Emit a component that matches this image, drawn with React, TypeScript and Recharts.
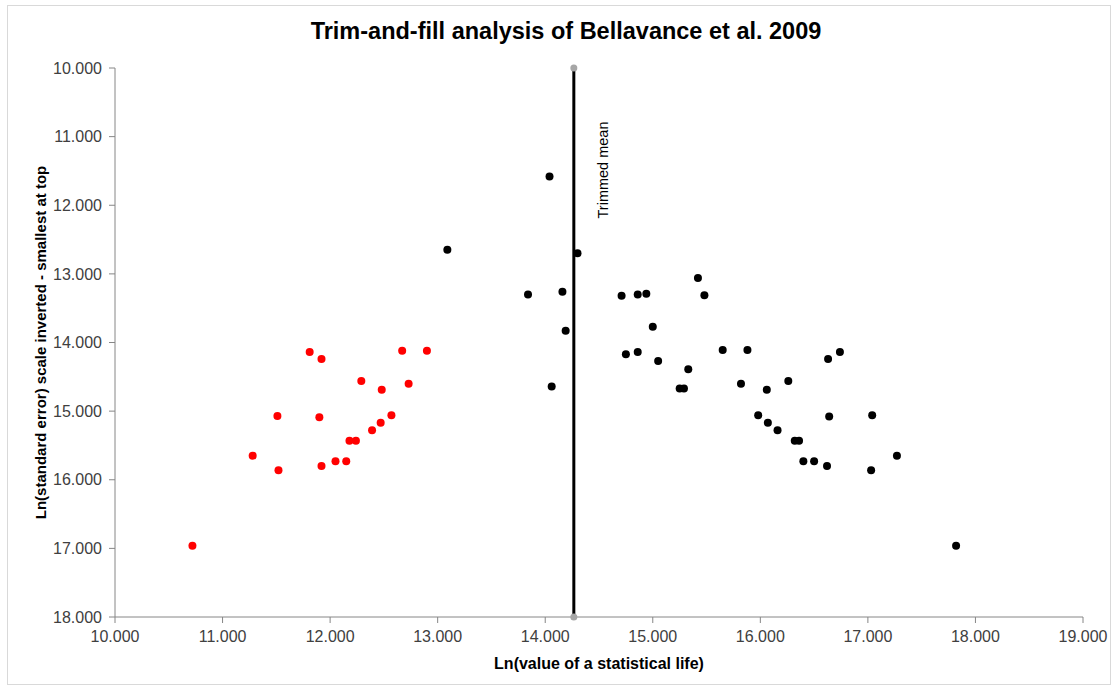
import { ScatterChart, Scatter, XAxis, YAxis, ReferenceLine } from 'recharts';

// observed studies (black) - ln(VSL) and ln(SE)
const observedLnVsl = [
  14.04, 13.09, 14.30, 13.84, 14.16, 14.19, 14.06,
  15.42, 14.71, 14.86, 14.94, 15.48, 15.00, 14.75, 14.86, 15.05, 15.33, 15.65, 15.88, 16.63, 16.74,
  15.25, 15.29, 15.82, 16.06, 16.26, 15.98, 16.07, 16.16, 16.64, 17.04, 16.32, 16.36,
  16.40, 16.50, 16.62, 17.27, 17.03, 17.82,
];
const observedLnSe = [
  11.58, 12.65, 12.70, 13.30, 13.26, 13.83, 14.64,
  13.06, 13.32, 13.30, 13.29, 13.31, 13.77, 14.17, 14.14, 14.27, 14.39, 14.11, 14.11, 14.24, 14.14,
  14.67, 14.67, 14.60, 14.69, 14.56, 15.06, 15.17, 15.28, 15.08, 15.06, 15.43, 15.43,
  15.73, 15.73, 15.80, 15.65, 15.86, 16.96,
];

// filled (imputed) studies (red)
const filledLnVsl = [
  11.81, 11.92, 12.67, 12.90, 12.29, 12.48, 12.73, 11.51, 11.90, 12.57,
  12.47, 12.39, 12.18, 12.24, 11.28, 11.52, 11.92, 12.05, 12.15, 10.72,
];
const filledLnSe = [
  14.14, 14.24, 14.12, 14.12, 14.56, 14.69, 14.60, 15.07, 15.09, 15.06,
  15.17, 15.28, 15.43, 15.43, 15.65, 15.86, 15.80, 15.73, 15.73, 16.96,
];

const trimmedMean = 14.266;
const meanSpan = [10, 18];

const xTicks = [10, 11, 12, 13, 14, 15, 16, 17, 18, 19];
const yTicks = [10, 11, 12, 13, 14, 15, 16, 17, 18];

const observed = observedLnVsl.map((x, i) => ({ x, y: observedLnSe[i] }));
const filled = filledLnVsl.map((x, i) => ({ x, y: filledLnSe[i] }));
const meanLine = meanSpan.map((y) => ({ x: trimmedMean, y }));

const FONT = '"Liberation Sans", Arial, sans-serif';

const dot = (color: string, r: number) => (props: any) =>
  <circle cx={props.cx} cy={props.cy} r={r} fill={color} />;

export default function App() {
  return (
    <div style={{ position: 'absolute', left: 0, top: 0, width: 1117, height: 688, background: '#fff', fontFamily: FONT }}>
      <div style={{ position: 'absolute', left: 7, top: 5, width: 1102, height: 678, border: '1px solid #d9d9d9' }} />
      <div style={{ position: 'absolute', left: 0, width: 1132, top: 18, textAlign: 'center', fontSize: 23.5, fontWeight: 'bold', color: '#000' }}>
        Trim-and-fill analysis of Bellavance et al. 2009
      </div>
      <ScatterChart width={1117} height={688} margin={{ top: 68, right: 34, bottom: 0, left: 0 }} style={{ position: 'absolute', left: 0, top: 0 }}>
        <XAxis
          type="number"
          dataKey="x"
          domain={[10, 19]}
          ticks={xTicks}
          tickFormatter={(v) => v.toFixed(3)}
          height={71}
          stroke="#868686"
          tickSize={6}
          tickMargin={8}
          tick={{ fontSize: 16, fill: '#404040', fontFamily: FONT }}
          label={{
            content: (p: any) => (
              <text x={p.viewBox.x + p.viewBox.width / 2} y={p.viewBox.y + 52} textAnchor="middle" fontSize={16} fontWeight="bold" fill="#000" fontFamily={FONT}>
                Ln(value of a statistical life)
              </text>
            ),
          }}
        />
        <YAxis
          type="number"
          dataKey="y"
          domain={[10, 18]}
          reversed
          ticks={yTicks}
          tickFormatter={(v) => v.toFixed(3)}
          width={115}
          stroke="#868686"
          tickSize={6}
          tickMargin={7}
          tick={{ fontSize: 16, fill: '#404040', fontFamily: FONT }}
          label={{
            content: (p: any) => {
              const cx = p.viewBox.x + 40;
              const cy = p.viewBox.y + p.viewBox.height / 2;
              return (
                <text x={cx} y={cy} transform={`rotate(-90 ${cx} ${cy})`} textAnchor="middle" dominantBaseline="central" fontSize={15} fontWeight="bold" fill="#000" fontFamily={FONT}>
                  Ln(standard error) scale inverted - smallest at top
                </text>
              );
            },
          }}
        />
        <ReferenceLine
          x={trimmedMean}
          stroke="none"
          label={{
            content: (p: any) => {
              const cx = p.viewBox.x + 29;
              const cy = p.viewBox.y + 102;
              return (
                <text x={cx} y={cy} transform={`rotate(-90 ${cx} ${cy})`} textAnchor="middle" dominantBaseline="central" fontSize={14.5} fill="#000" fontFamily={FONT}>
                  Trimmed mean
                </text>
              );
            },
          }}
        />
        <Scatter data={meanLine} line={{ stroke: '#000', strokeWidth: 3 }} shape={dot('#a6a6a6', 3.5)} isAnimationActive={false} />
        <Scatter data={observed} shape={dot('#000', 4)} isAnimationActive={false} />
        <Scatter data={filled} shape={dot('#ff0000', 4)} isAnimationActive={false} />
      </ScatterChart>
    </div>
  );
}
